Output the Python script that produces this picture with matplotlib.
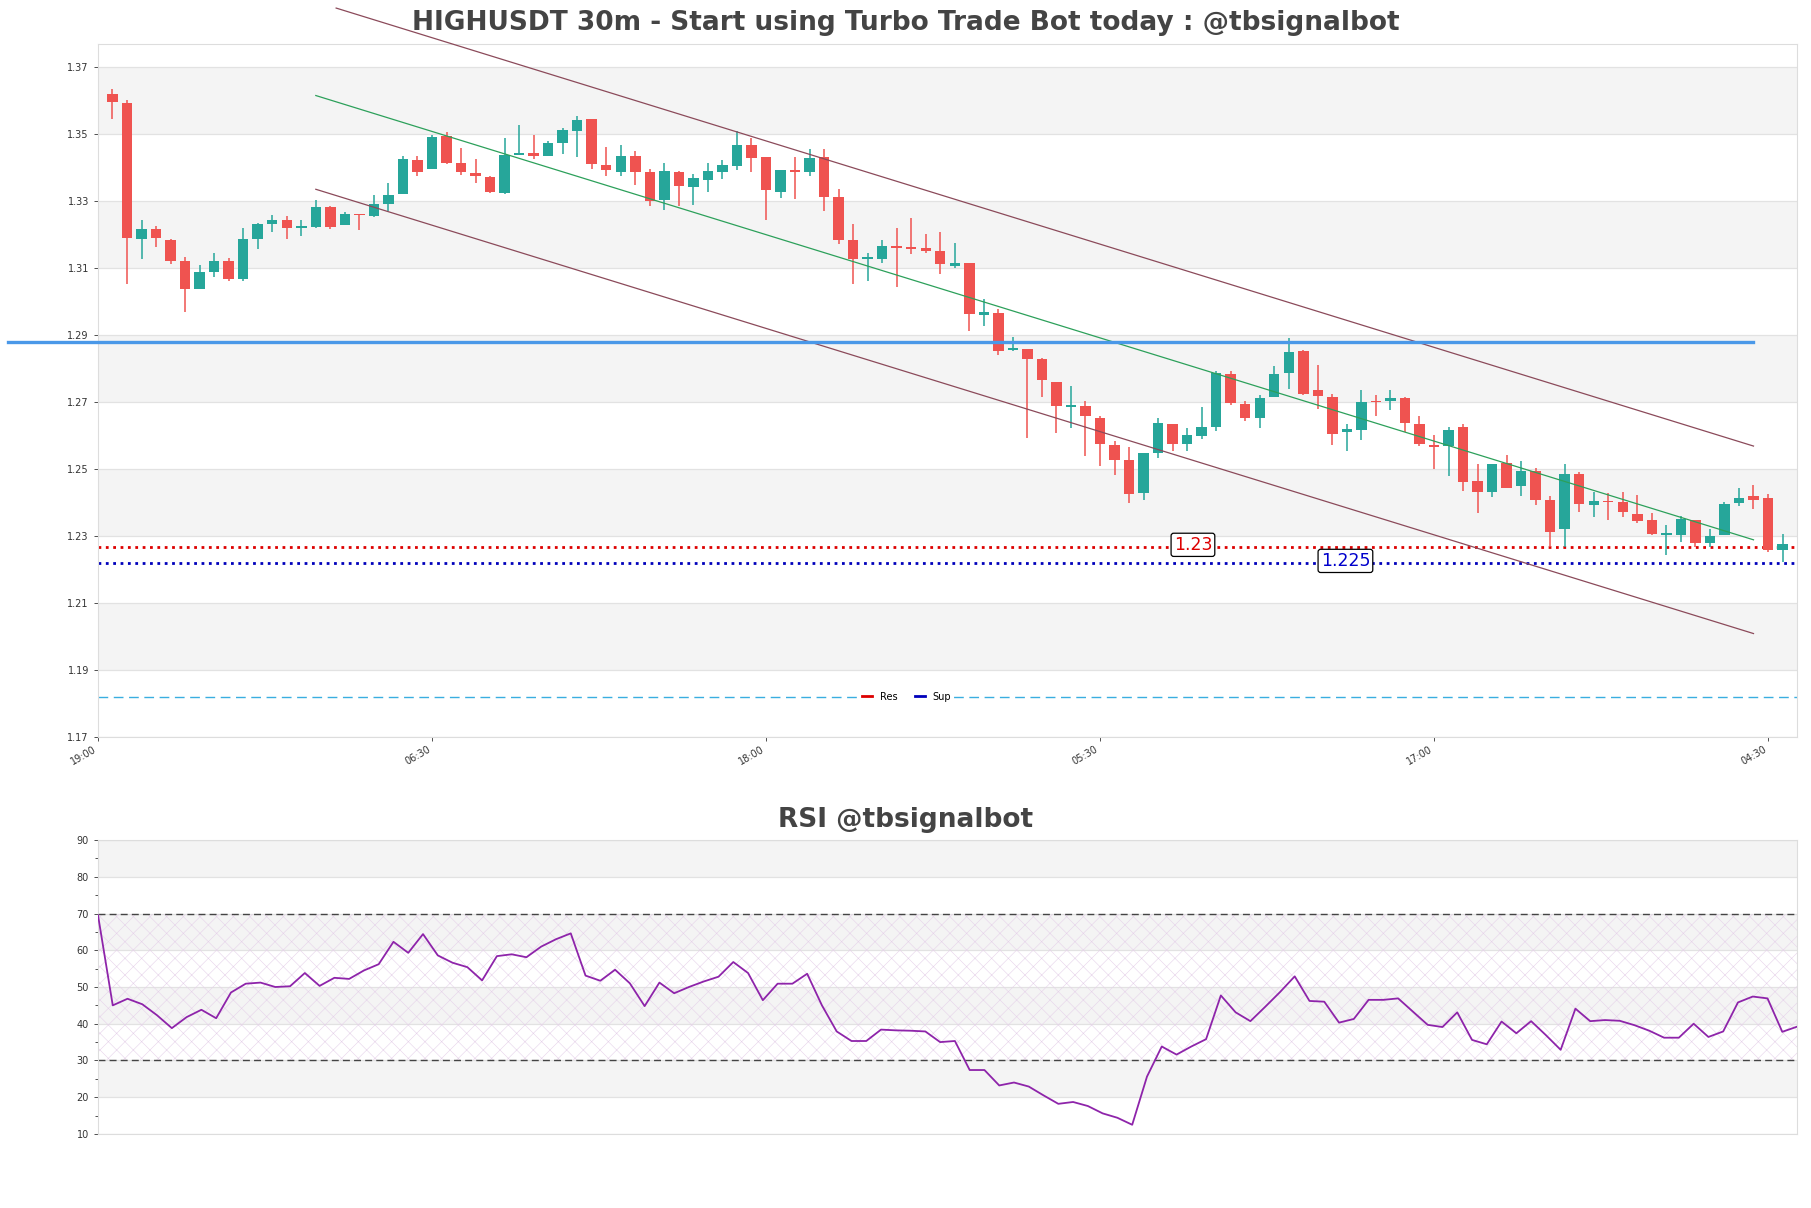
import matplotlib
matplotlib.use('Agg')
import matplotlib.pyplot as plt
from matplotlib.lines import Line2D
import numpy as np

# candle data, candle index 1..116 (30m bars starting 19:30)
opens = [1.3620, 1.3593, 1.3187, 1.3217, 1.3185, 1.3123, 1.3039, 1.3089, 1.3123, 1.3067,
         1.3187, 1.3233, 1.3243, 1.3221, 1.3224, 1.3284, 1.3228, 1.3261, 1.3255, 1.3292,
         1.3321, 1.3423, 1.3396, 1.3496, 1.3413, 1.3384, 1.3373, 1.3325, 1.3437, 1.3444,
         1.3435, 1.3473, 1.3509, 1.3545, 1.3408, 1.3389, 1.3435, 1.3388, 1.3303, 1.3388,
         1.3343, 1.3363, 1.3387, 1.3407, 1.3469, 1.3431, 1.3329, 1.3395, 1.3388, 1.3431,
         1.3312, 1.3183, 1.3128, 1.3129, 1.3167, 1.3164, 1.3160, 1.3153, 1.3107, 1.3116,
         1.2961, 1.2967, 1.2856, 1.2860, 1.2829, 1.2761, 1.2687, 1.2688, 1.2652, 1.2572,
         1.2527, 1.2428, 1.2549, 1.2635, 1.2575, 1.2599, 1.2625, 1.2785, 1.2696, 1.2652,
         1.2716, 1.2788, 1.2853, 1.2736, 1.2716, 1.2612, 1.2616, 1.2705, 1.2703, 1.2712,
         1.2636, 1.2573, 1.2568, 1.2627, 1.2465, 1.2432, 1.2519, 1.2451, 1.2496, 1.2409,
         1.2320, 1.2485, 1.2393, 1.2405, 1.2403, 1.2367, 1.2349, 1.2303, 1.2303, 1.2349,
         1.2279, 1.2303, 1.2399, 1.2421, 1.2415, 1.2259]
closes = [1.3596, 1.3189, 1.3217, 1.3189, 1.3121, 1.3039, 1.3089, 1.3123, 1.3067, 1.3188,
          1.3233, 1.3243, 1.3220, 1.3224, 1.3284, 1.3224, 1.3263, 1.3259, 1.3292, 1.3320,
          1.3425, 1.3389, 1.3491, 1.3413, 1.3389, 1.3376, 1.3327, 1.3439, 1.3444, 1.3435,
          1.3473, 1.3512, 1.3543, 1.3411, 1.3393, 1.3435, 1.3389, 1.3300, 1.3392, 1.3345,
          1.3369, 1.3392, 1.3408, 1.3467, 1.3428, 1.3333, 1.3395, 1.3389, 1.3429, 1.3312,
          1.3183, 1.3129, 1.3135, 1.3168, 1.3161, 1.3159, 1.3153, 1.3112, 1.3115, 1.2963,
          1.2968, 1.2852, 1.2863, 1.2828, 1.2765, 1.2688, 1.2692, 1.2659, 1.2575, 1.2528,
          1.2425, 1.2548, 1.2637, 1.2575, 1.2601, 1.2625, 1.2788, 1.2699, 1.2652, 1.2713,
          1.2785, 1.2849, 1.2725, 1.2720, 1.2604, 1.2620, 1.2700, 1.2700, 1.2712, 1.2639,
          1.2575, 1.2565, 1.2617, 1.2463, 1.2433, 1.2516, 1.2445, 1.2496, 1.2407, 1.2312,
          1.2485, 1.2396, 1.2405, 1.2401, 1.2372, 1.2344, 1.2307, 1.2308, 1.2352, 1.2279,
          1.2301, 1.2396, 1.2415, 1.2407, 1.2259, 1.2277]
highs = [1.3636, 1.3603, 1.3245, 1.3225, 1.3188, 1.3133, 1.3109, 1.3147, 1.3131, 1.3221,
         1.3236, 1.3259, 1.3255, 1.3244, 1.3305, 1.3287, 1.3269, 1.3261, 1.3320, 1.3356,
         1.3435, 1.3436, 1.3497, 1.3507, 1.3460, 1.3425, 1.3376, 1.3489, 1.3527, 1.3499,
         1.3480, 1.3520, 1.3556, 1.3545, 1.3463, 1.3469, 1.3449, 1.3396, 1.3413, 1.3392,
         1.3383, 1.3415, 1.3423, 1.3511, 1.3489, 1.3433, 1.3395, 1.3432, 1.3455, 1.3456,
         1.3336, 1.3233, 1.3147, 1.3183, 1.3219, 1.3249, 1.3201, 1.3209, 1.3175, 1.3116,
         1.3009, 1.2977, 1.2896, 1.2860, 1.2833, 1.2761, 1.2749, 1.2703, 1.2659, 1.2585,
         1.2567, 1.2548, 1.2652, 1.2635, 1.2623, 1.2687, 1.2793, 1.2792, 1.2703, 1.2723,
         1.2807, 1.2892, 1.2856, 1.2812, 1.2725, 1.2636, 1.2735, 1.2723, 1.2735, 1.2717,
         1.2659, 1.2603, 1.2625, 1.2636, 1.2516, 1.2516, 1.2543, 1.2523, 1.2503, 1.2419,
         1.2516, 1.2492, 1.2433, 1.2429, 1.2433, 1.2423, 1.2369, 1.2333, 1.2360, 1.2349,
         1.2320, 1.2403, 1.2445, 1.2452, 1.2427, 1.2305]
lows = [1.3545, 1.3052, 1.3127, 1.3163, 1.3112, 1.2968, 1.3039, 1.3075, 1.3063, 1.3063,
        1.3157, 1.3208, 1.3187, 1.3195, 1.3221, 1.3216, 1.3228, 1.3213, 1.3252, 1.3272,
        1.3321, 1.3377, 1.3396, 1.3411, 1.3380, 1.3356, 1.3324, 1.3321, 1.3437, 1.3425,
        1.3435, 1.3440, 1.3432, 1.3396, 1.3377, 1.3377, 1.3348, 1.3287, 1.3273, 1.3287,
        1.3289, 1.3327, 1.3368, 1.3393, 1.3387, 1.3243, 1.3309, 1.3308, 1.3375, 1.3272,
        1.3173, 1.3052, 1.3063, 1.3116, 1.3043, 1.3144, 1.3145, 1.3083, 1.3100, 1.2912,
        1.2929, 1.2841, 1.2852, 1.2592, 1.2716, 1.2607, 1.2623, 1.2539, 1.2509, 1.2483,
        1.2399, 1.2407, 1.2532, 1.2553, 1.2553, 1.2591, 1.2613, 1.2691, 1.2643, 1.2623,
        1.2716, 1.2739, 1.2721, 1.2681, 1.2572, 1.2553, 1.2587, 1.2659, 1.2676, 1.2612,
        1.2569, 1.2500, 1.2480, 1.2436, 1.2369, 1.2416, 1.2443, 1.2419, 1.2392, 1.2268,
        1.2268, 1.2372, 1.2356, 1.2349, 1.2356, 1.2340, 1.2303, 1.2243, 1.2281, 1.2269,
        1.2269, 1.2303, 1.2389, 1.2380, 1.2252, 1.2223]

rsi = [69.6, 45.0, 46.8, 45.3, 42.3, 38.8, 41.8, 43.8, 41.5, 48.5,
       50.9, 51.2, 50.0, 50.2, 53.8, 50.3, 52.5, 52.2, 54.5, 56.2,
       62.3, 59.3, 64.4, 58.6, 56.6, 55.4, 51.8, 58.4, 58.9, 58.1,
       61.0, 63.0, 64.6, 53.1, 51.7, 54.7, 51.0, 44.8, 51.2, 48.3,
       50.0, 51.5, 52.8, 56.8, 53.8, 46.4, 50.9, 50.9, 53.6, 45.0,
       37.9, 35.3, 35.3, 38.4, 38.2, 38.1, 37.9, 35.0, 35.3, 27.4,
       27.4, 23.2, 24.0, 22.9, 20.5, 18.2, 18.7, 17.6, 15.6, 14.4,
       12.5, 25.6, 33.8, 31.6, 33.8, 35.8, 47.7, 43.1, 40.7, 44.6,
       48.6, 52.9, 46.2, 46.0, 40.3, 41.3, 46.5, 46.5, 46.9, 43.3,
       39.7, 39.1, 43.1, 35.6, 34.4, 40.6, 37.4, 40.7, 36.9, 32.9,
       44.1, 40.7, 41.0, 40.8, 39.6, 38.1, 36.2, 36.2, 40.0, 36.4,
       37.9, 45.8, 47.4, 46.9, 37.8, 39.2]

tick_pos = [0, 23, 46, 69, 92, 115]
tick_labels = ['19:00', '06:30', '18:00', '05:30', '17:00', '04:30']

res_level = 1.2268
sup_level = 1.2220
res_label = '1.23'
sup_label = '1.225'
blue_level = 1.2881
channel_x = [15, 114]
channel_mid = [1.3616, 1.2289]
channel_off = 0.028

GREEN = '#26a69a'
RED = '#ef5350'

fig = plt.figure(figsize=(18.11, 12.08), dpi=100)
ax = fig.add_axes([0.0541, 0.3899, 0.9382, 0.5737])
ax2 = fig.add_axes([0.0541, 0.0613, 0.9382, 0.2433])

# ---- price panel ----
ax.set_xlim(0, 117)
ax.set_ylim(1.17, 1.377)
yt = np.round(np.arange(1.17, 1.371, 0.02), 2)
for k in range(len(yt) - 1):
    if k % 2 == 1:
        ax.axhspan(yt[k], yt[k + 1], color='#f4f4f4', lw=0, zorder=0)
for v in yt:
    ax.axhline(v, color='#e2e2e2', lw=0.9, zorder=0.5)

x = np.arange(1, len(opens) + 1)
for i in range(len(opens)):
    o, c, h, l = opens[i], closes[i], highs[i], lows[i]
    col = GREEN if c >= o else RED
    ax.vlines(x[i], l, h, color=col, lw=1.1, zorder=3)
    ax.bar(x[i], max(abs(c - o), 0.0004), bottom=min(o, c), width=0.72,
           color=col, zorder=4, lw=0)

# regression channel
ax.plot(channel_x, channel_mid, color='#2ca05a', lw=0.9, zorder=5)
up = [v + channel_off for v in channel_mid]
slope = (up[1] - up[0]) / (channel_x[1] - channel_x[0])
x_up0 = 16.4
ax.plot([x_up0, channel_x[1]], [up[0] + slope * (x_up0 - channel_x[0]), up[1]],
        color='#8b4a5a', lw=0.9, zorder=5, clip_on=False)
ax.plot(channel_x, [v - channel_off for v in channel_mid], color='#8b4a5a',
        lw=0.9, zorder=5)

ax.plot([-6.2, 114], [blue_level, blue_level], color='#4a98e8', lw=2.4,
        zorder=5, clip_on=False)

ax.axhline(res_level, color='#dd0000', ls=':', lw=2, zorder=2)
ax.axhline(sup_level, color='#0000bb', ls=':', lw=2, zorder=2)
ax.axhline(1.182, color='#3aaee0', ls=(0, (7, 4)), lw=1, zorder=1)

ax.text(75.4, res_level + 0.0006, res_label, color='#dd0000', fontsize=12.5,
        ha='center', va='center', zorder=7,
        bbox=dict(boxstyle='round,pad=0.15', fc='white', ec='black', lw=0.9))
ax.text(85.9, sup_level + 0.0006, sup_label, color='#0000cc', fontsize=12.5,
        ha='center', va='center', zorder=7,
        bbox=dict(boxstyle='round,pad=0.15', fc='white', ec='black', lw=0.9))

handles = [Line2D([], [], color='#dd0000', lw=2), Line2D([], [], color='#0000bb', lw=2)]
leg = ax.legend(handles, ['Res', 'Sup'], loc='center', bbox_to_anchor=(0.476, 0.058),
                ncol=2, fontsize=7, frameon=True, facecolor='white', edgecolor='none',
                framealpha=1, handlelength=1.0, columnspacing=1.8, borderpad=0.3)
leg.set_zorder(6)

ax.set_yticks(yt)
ax.set_yticklabels([f'{v:.2f}' for v in yt])
ax.set_xticks(tick_pos)
ax.set_xticklabels(tick_labels, rotation=30, ha='right')
ax.tick_params(axis='both', labelsize=7, colors='#333333', length=3, width=0.6)
ax.tick_params(axis='x', pad=2)
for s in ax.spines.values():
    s.set_color('#dddddd')

# ---- RSI panel ----
xr = np.arange(1, len(rsi) + 1)
ax2.set_xlim(1, len(rsi))
ax2.set_ylim(10, 90)
for a, b in [(80, 90), (60, 70), (40, 50), (20, 30)]:
    ax2.axhspan(a, b, color='#f4f4f4', lw=0, zorder=0)
for v in range(10, 91, 10):
    ax2.axhline(v, color='#e2e2e2', lw=0.9, zorder=0.5)
plt.rcParams['hatch.linewidth'] = 0.4
ax2.fill_between([1, len(rsi)], 30, 70, facecolor='none', hatch='xx',
                 edgecolor='#e6d2ea', lw=0, zorder=1)
ax2.axhline(70, color='#444444', ls=(0, (5, 3)), lw=1, zorder=2)
ax2.axhline(30, color='#444444', ls=(0, (5, 3)), lw=1, zorder=2)
ax2.plot(xr, rsi, color='#8e24aa', lw=1.3, zorder=3)
ax2.set_yticks(range(10, 91, 10))
ax2.set_yticks(range(15, 90, 10), minor=True)
ax2.set_xticks([])
ax2.tick_params(axis='y', which='both', labelsize=7, colors='#333333', width=0.6)
ax2.tick_params(axis='y', which='major', length=3)
ax2.tick_params(axis='y', which='minor', length=2)
for s in ax2.spines.values():
    s.set_color('#dddddd')

fig.text(0.5, 0.981, 'HIGHUSDT 30m - Start using Turbo Trade Bot today : @tbsignalbot',
         ha='center', va='center', fontsize=19, fontweight='bold', color='#444444')
fig.text(0.5, 0.321, 'RSI @tbsignalbot', ha='center', va='center',
         fontsize=19, fontweight='bold', color='#444444')

fig.savefig('out.png', dpi=100, facecolor='white')
